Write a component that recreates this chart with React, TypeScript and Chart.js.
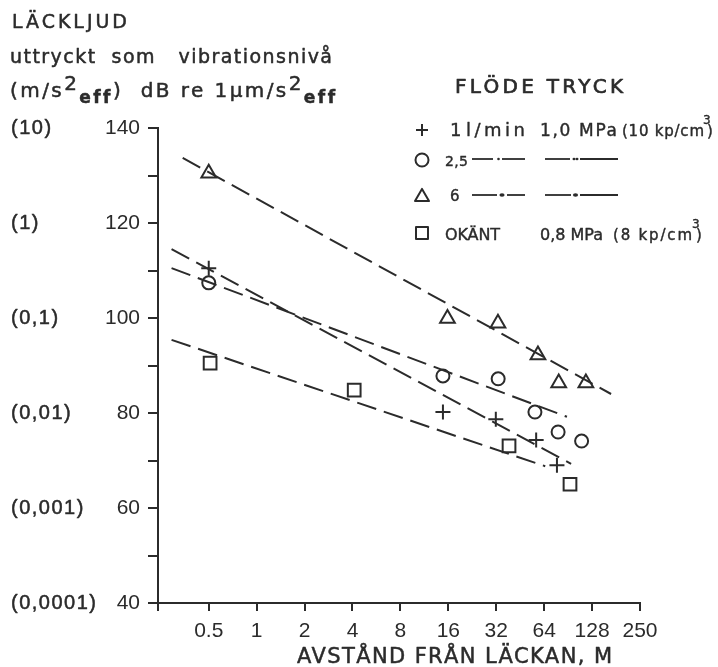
import React, { useEffect, useRef } from 'react';
import { Chart, registerables } from 'chart.js';

Chart.register(...registerables);

const FAM = '"DejaVu Sans", "Liberation Sans", sans-serif';
const NUMFAM = '"Liberation Sans", Arial, sans-serif';
const INK = '#2b2b2b';

// Measured points (x = distance in m, y = level in dB)
const triX = [0.5, 15.8, 32.8, 58.5, 79, 117];
const triY = [130.5, 99.9, 98.9, 92.2, 86.3, 86.3];
const cirX = [0.5, 14.8, 32.9, 56, 78.3, 110];
const cirY = [107.4, 87.8, 87.2, 80.2, 76, 74.1];
const plusX = [0.5, 14.8, 31.8, 57, 77];
const plusY = [110.5, 80.2, 78.7, 74.3, 69];
const sqX = [0.51, 4.1, 38.5, 93];
const sqY = [90.5, 84.8, 73.1, 65];

// Fitted dashed lines (end points)
const triLineX = [0.343, 168.5];
const triLineY = [133.7, 84.0];
const cirLineX = [0.292, 89];
const cirLineY = [110.5, 79.2];
const plusLineX = [0.292, 94.5];
const plusLineY = [114.5, 69.3];
const sqLineX = [0.292, 65];
const sqLineY = [95.4, 68.8];

// Axes
const xMin = 0.24;
const xMax = 256;
const xTickValues = [0.5, 1, 2, 4, 8, 16, 32, 64, 128, 256];
const xTickLabels = ['0.5', '1', '2', '4', '8', '16', '32', '64', '128', '250'];
const yMin = 40;
const yMax = 140;
const yMajorValues = [40, 60, 80, 100, 120, 140];
const yLeftLabels = ['(0,0001)', '(0,001)', '(0,01)', '(0,1)', '(1)', '(10)'];

const toPts = (xs: number[], ys: number[]) => xs.map((x, i) => ({ x, y: ys[i] }));

type Run = { t: string; size: number; dy?: number; weight?: string };

function setFont(ctx: CanvasRenderingContext2D, size: number, weight = 'normal', fam = FAM) {
  ctx.font = `${weight} ${size}px ${fam}`;
}

function put(ctx: CanvasRenderingContext2D, t: string, x: number, y: number) {
  ctx.fillText(t, x, y);
  ctx.strokeText(t, x, y);
}

function fitText(ctx: CanvasRenderingContext2D, text: string, x: number, y: number, width: number, size: number, weight = 'normal') {
  setFont(ctx, size, weight);
  (ctx as any).letterSpacing = '0px';
  const w = ctx.measureText(text).width;
  const n = [...text].length;
  const sp = n > 1 ? (width - w) / (n - 1) : 0;
  (ctx as any).letterSpacing = `${sp}px`;
  put(ctx, text, x, y);
  (ctx as any).letterSpacing = '0px';
}

function fitRuns(ctx: CanvasRenderingContext2D, runs: Run[], x: number, y: number, width: number) {
  (ctx as any).letterSpacing = '0px';
  let total = 0;
  let n = 0;
  for (const r of runs) {
    setFont(ctx, r.size, r.weight);
    total += ctx.measureText(r.t).width;
    n += [...r.t].length;
  }
  const sp = n > 1 ? (width - total) / (n - 1) : 0;
  let cx = x;
  (ctx as any).letterSpacing = `${sp}px`;
  for (const r of runs) {
    setFont(ctx, r.size, r.weight);
    put(ctx, r.t, cx, y + (r.dy || 0));
    cx += ctx.measureText(r.t).width;
  }
  (ctx as any).letterSpacing = '0px';
}

function mPlus(ctx: CanvasRenderingContext2D, x: number, y: number, r: number) {
  ctx.beginPath();
  ctx.moveTo(x - r, y); ctx.lineTo(x + r, y);
  ctx.moveTo(x, y - r); ctx.lineTo(x, y + r);
  ctx.stroke();
}
function mCircle(ctx: CanvasRenderingContext2D, x: number, y: number, r: number) {
  ctx.beginPath(); ctx.arc(x, y, r, 0, Math.PI * 2); ctx.stroke();
}
function mTri(ctx: CanvasRenderingContext2D, x: number, y: number, w: number) {
  const h = w * 0.87;
  ctx.beginPath();
  ctx.moveTo(x, y - h / 2); ctx.lineTo(x + w / 2, y + h / 2); ctx.lineTo(x - w / 2, y + h / 2);
  ctx.closePath(); ctx.stroke();
}
function mSq(ctx: CanvasRenderingContext2D, x: number, y: number, s: number) {
  ctx.beginPath(); ctx.rect(x - s / 2, y - s / 2, s, s); ctx.stroke();
}
function seg(ctx: CanvasRenderingContext2D, y: number, parts: number[][]) {
  for (const p of parts) {
    if (p.length === 2) {
      ctx.beginPath(); ctx.moveTo(p[0], y); ctx.lineTo(p[1], y); ctx.stroke();
    } else {
      ctx.beginPath(); ctx.ellipse(p[0], y, p[1], p[2], 0, 0, Math.PI * 2); ctx.fill();
    }
  }
}

const decorPlugin = {
  id: 'decor',
  beforeDraw(chart: any) {
    const ctx = chart.ctx as CanvasRenderingContext2D;
    ctx.save();
    ctx.fillStyle = '#ffffff';
    ctx.fillRect(0, 0, chart.width, chart.height);
    ctx.restore();
  },
  afterDraw(chart: any) {
    const ctx = chart.ctx as CanvasRenderingContext2D;
    const ys = chart.scales.y;
    ctx.save();
    ctx.fillStyle = INK;
    ctx.strokeStyle = INK;
    ctx.lineWidth = 0.5;
    ctx.lineJoin = 'round';
    ctx.textAlign = 'left';
    ctx.textBaseline = 'alphabetic';

    // Y-axis heading
    fitText(ctx, 'LÄCKLJUD', 12, 28, 115, 19);
    fitText(ctx, 'uttryckt  som   vibrationsnivå', 10, 63, 322, 19);
    fitRuns(ctx, [
      { t: '(m/s', size: 20 },
      { t: '2', size: 20, dy: -7 },
      { t: 'eff', size: 17, dy: 6, weight: 'bold' },
      { t: ')  dB re 1', size: 20 },
      { t: 'µ', size: 20 },
      { t: 'm/s', size: 20 },
      { t: '2', size: 20, dy: -7 },
      { t: 'eff', size: 17, dy: 6, weight: 'bold' },
    ], 10, 97, 323);

    // Left parenthetical labels
    ctx.textBaseline = 'middle';
    setFont(ctx, 20, 'normal', NUMFAM);
    (ctx as any).letterSpacing = '1.5px';
    yMajorValues.forEach((v, i) => {
      put(ctx, yLeftLabels[i], 11, ys.getPixelForValue(v));
    });
    (ctx as any).letterSpacing = '0px';
    ctx.textBaseline = 'alphabetic';

    // Legend
    ctx.lineWidth = 0.7;
    fitText(ctx, 'FLÖDE TRYCK', 455, 93, 168, 20);
    ctx.lineWidth = 0.4;
    fitText(ctx, '1', 450, 136, 8, 18);
    fitText(ctx, 'l/min', 466, 136, 59, 18);
    fitText(ctx, '1,0 MPa', 540, 136, 77, 17);
    fitText(ctx, '(10 kp/cm', 622, 136, 82, 15);
    setFont(ctx, 12);
    put(ctx, '3', 703, 124);
    setFont(ctx, 15);
    put(ctx, ')', 707, 136);

    fitText(ctx, '2,5', 445, 166, 23, 14);
    fitText(ctx, '6', 450, 201, 10, 15);

    fitText(ctx, 'OKÄNT', 445, 240, 55, 16);
    fitText(ctx, '0,8 MPa', 540, 240, 63, 16);
    fitText(ctx, '(8 kp/cm', 613, 240, 79, 15);
    setFont(ctx, 12);
    put(ctx, '3', 692, 228);
    setFont(ctx, 15);
    put(ctx, ')', 696, 240);

    ctx.lineWidth = 2;
    mPlus(ctx, 422, 130, 6);
    mCircle(ctx, 422, 160, 6.5);
    mTri(ctx, 422, 195, 14);
    mSq(ctx, 422, 233, 12);

    ctx.lineWidth = 1.8;
    seg(ctx, 159, [[472, 493], [498.5, 1.3, 1.3], [502, 525], [545, 570], [574, 1.5, 1.3], [577, 1.5, 1.3], [580, 618]]);
    seg(ctx, 195, [[472, 497], [502, 2.6, 1.8], [507, 525], [545, 571], [575.5, 2.6, 1.8], [580, 618]]);

    // X-axis title
    ctx.lineWidth = 0.5;
    fitText(ctx, 'AVSTÅND FRÅN LÄCKAN, M', 297, 663, 315, 21);

    ctx.restore();
  },
};

const pointSet = (xs: number[], ys: number[], style: string, r: number) => ({
  type: 'scatter' as const,
  data: toPts(xs, ys),
  showLine: false,
  pointStyle: style,
  pointRadius: r,
  pointBorderColor: INK,
  pointBackgroundColor: 'rgba(0,0,0,0)',
  pointBorderWidth: 2,
  borderColor: INK,
  backgroundColor: 'rgba(0,0,0,0)',
});

const lineSet = (xs: number[], ys: number[]) => ({
  type: 'line' as const,
  data: toPts(xs, ys),
  showLine: true,
  borderColor: INK,
  borderWidth: 2,
  borderDash: [20, 8],
  pointRadius: 0,
  fill: false,
  tension: 0,
});

export default function App() {
  const ref = useRef<HTMLCanvasElement>(null);
  useEffect(() => {
    document.body.style.margin = '0';
    const chart = new Chart(ref.current as HTMLCanvasElement, {
      type: 'scatter',
      data: {
        datasets: [
          lineSet(triLineX, triLineY),
          lineSet(cirLineX, cirLineY),
          lineSet(plusLineX, plusLineY),
          lineSet(sqLineX, sqLineY),
          pointSet(triX, triY, 'triangle', 8.5),
          pointSet(cirX, cirY, 'circle', 6.5),
          pointSet(plusX, plusY, 'cross', 7.5),
          pointSet(sqX, sqY, 'rect', 9),
        ] as any,
      },
      options: {
        animation: false,
        responsive: false,
        devicePixelRatio: 1,
        layout: { padding: { left: 0, top: 128, right: 78, bottom: 0 } },
        plugins: { legend: { display: false }, tooltip: { enabled: false }, title: { display: false } },
        scales: {
          x: {
            type: 'logarithmic',
            min: xMin,
            max: xMax,
            afterFit: (s: any) => { s.height = 64; },
            afterBuildTicks: (s: any) => {
              s.ticks = [{ value: xMin }, ...xTickValues.map((v) => ({ value: v }))];
            },
            ticks: {
              autoSkip: false,
              maxRotation: 0,
              minRotation: 0,
              padding: 8,
              color: INK,
              font: { family: NUMFAM, size: 21 },
              callback: (v: any) => {
                const i = xTickValues.indexOf(Number(v));
                return i >= 0 ? xTickLabels[i] : '';
              },
            },
            grid: { drawOnChartArea: false, drawTicks: true, tickLength: 8, tickColor: INK, tickWidth: 2, color: INK, lineWidth: 2 },
            border: { display: true, color: INK, width: 2 },
          },
          y: {
            type: 'linear',
            min: yMin,
            max: yMax,
            afterFit: (s: any) => { s.width = 158; },
            ticks: {
              stepSize: 10,
              padding: 8,
              color: INK,
              font: { family: NUMFAM, size: 21 },
              callback: (v: any) => (Number(v) % 20 === 0 ? String(v) : ''),
            },
            grid: { drawOnChartArea: false, drawTicks: true, tickLength: 10, tickColor: INK, tickWidth: 2, color: INK, lineWidth: 2 },
            border: { display: true, color: INK, width: 2 },
          },
        },
      } as any,
      plugins: [decorPlugin],
    });
    return () => chart.destroy();
  }, []);
  return (
    <div style={{ position: 'fixed', left: 0, top: 0, width: 718, height: 667, background: '#fff' }}>
      <canvas ref={ref} width={718} height={667} style={{ width: 718, height: 667, display: 'block' }} />
    </div>
  );
}
